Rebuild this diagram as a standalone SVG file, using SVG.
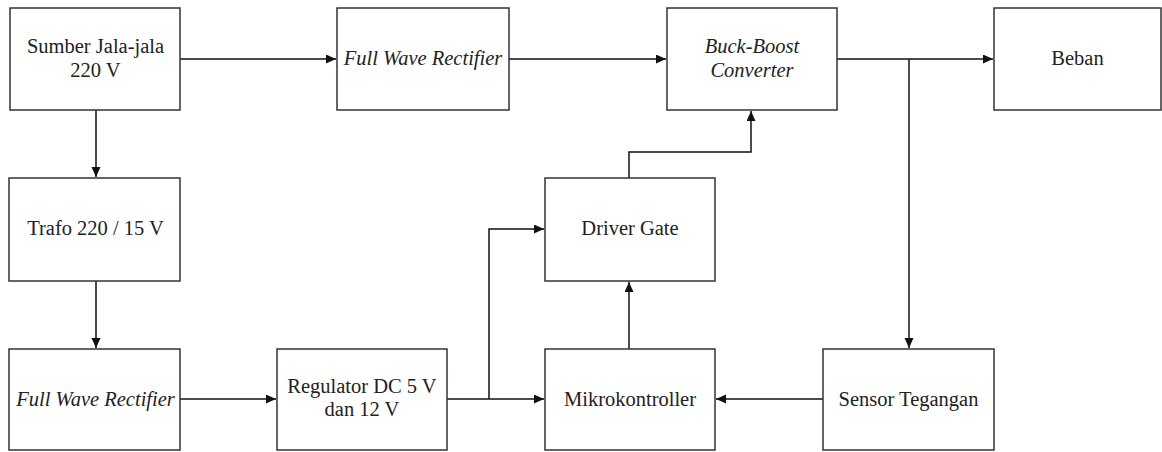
<svg xmlns="http://www.w3.org/2000/svg" width="1162" height="452" viewBox="0 0 1162 452">
<style>
.box{fill:#ffffff;stroke:#333333;stroke-width:1.5}
.t{font-size:20.5px;fill:#222222;text-anchor:middle}
.i{font-style:italic}
.c{fill:none;stroke:#111111;stroke-width:1.5}
</style>
<defs>
<marker id="ah" markerUnits="userSpaceOnUse" markerWidth="11" markerHeight="10" refX="10" refY="4.5" orient="auto">
<path d="M0,0 L10,4.5 L0,9 z" fill="#111111"/>
</marker>
</defs>
<rect width="1162" height="452" fill="#ffffff"/>
<g id="connectors">
<path class="c" d="M180,59 H336" marker-end="url(#ah)"/>
<path class="c" d="M509,59 H666" marker-end="url(#ah)"/>
<path class="c" d="M837,59 H993" marker-end="url(#ah)"/>
<path class="c" d="M909,59 V348" marker-end="url(#ah)"/>
<path class="c" d="M96,110 V177" marker-end="url(#ah)"/>
<path class="c" d="M96,281 V348" marker-end="url(#ah)"/>
<path class="c" d="M180,399 H276" marker-end="url(#ah)"/>
<path class="c" d="M447,399 H544" marker-end="url(#ah)"/>
<path class="c" d="M489,399 V229 H544" marker-end="url(#ah)"/>
<path class="c" d="M629,349 V282" marker-end="url(#ah)"/>
<path class="c" d="M629,178 V152 H751 V111" marker-end="url(#ah)"/>
<path class="c" d="M823,399 H716" marker-end="url(#ah)"/>
</g>
<g id="sumber">
<rect class="box" x="10" y="8" width="170" height="102"/>
<text class="t" font-family="Liberation Serif, serif" x="95.5" y="53">Sumber Jala-jala</text>
<text class="t" font-family="Liberation Serif, serif" x="95.5" y="77">220 V</text>
</g>
<g id="fwr-top">
<rect class="box" x="337" y="8" width="172" height="102"/>
<text class="t i" font-family="Liberation Serif, serif" x="423" y="65">Full Wave Rectifier</text>
</g>
<g id="buckboost">
<rect class="box" x="667" y="8" width="170" height="102"/>
<text class="t i" font-family="Liberation Serif, serif" x="752" y="53">Buck-Boost</text>
<text class="t i" font-family="Liberation Serif, serif" x="752" y="77">Converter</text>
</g>
<g id="beban">
<rect class="box" x="994" y="8" width="167" height="102"/>
<text class="t" font-family="Liberation Serif, serif" x="1077.5" y="65">Beban</text>
</g>
<g id="trafo">
<rect class="box" x="9" y="178" width="171" height="103"/>
<text class="t" font-family="Liberation Serif, serif" x="95.5" y="235">Trafo 220 / 15 V</text>
</g>
<g id="driver">
<rect class="box" x="545" y="178" width="170" height="103"/>
<text class="t" font-family="Liberation Serif, serif" x="630" y="235">Driver Gate</text>
</g>
<g id="fwr-bottom">
<rect class="box" x="9" y="349" width="171" height="101"/>
<text class="t i" font-family="Liberation Serif, serif" x="95.5" y="406">Full Wave Rectifier</text>
</g>
<g id="regulator">
<rect class="box" x="277" y="349" width="170" height="101"/>
<text class="t" font-family="Liberation Serif, serif" x="362" y="393">Regulator DC 5 V</text>
<text class="t" font-family="Liberation Serif, serif" x="362" y="416">dan 12 V</text>
</g>
<g id="mikro">
<rect class="box" x="545" y="349" width="170" height="101"/>
<text class="t" font-family="Liberation Serif, serif" x="630" y="406">Mikrokontroller</text>
</g>
<g id="sensor">
<rect class="box" x="823" y="349" width="171" height="101"/>
<text class="t" font-family="Liberation Serif, serif" x="908.5" y="406">Sensor Tegangan</text>
</g>
</svg>
